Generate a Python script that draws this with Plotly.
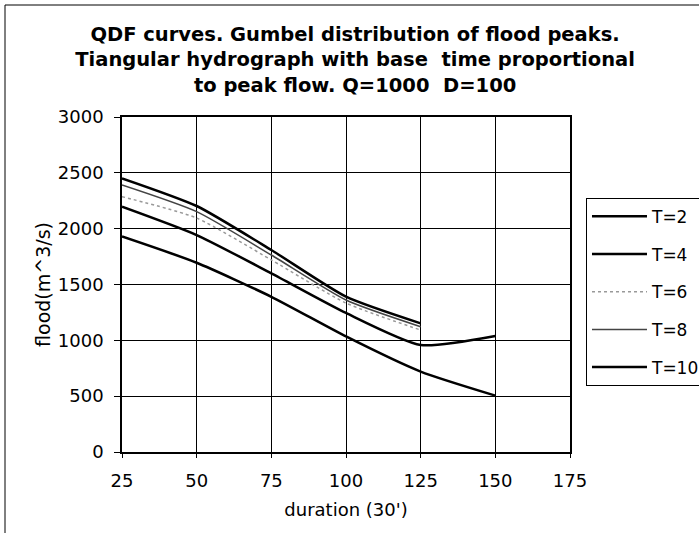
import plotly.graph_objects as go

duration_a = [25, 50, 75, 100, 125, 150]
duration_b = [25, 50, 75, 100, 125]

t2 = [1930, 1695, 1390, 1035, 720, 505]
t4 = [2197, 1943, 1600, 1245, 958, 1039]
t6 = [2287, 2095, 1720, 1334, 1092]
t8 = [2391, 2152, 1764, 1361, 1122]
t10 = [2451, 2203, 1809, 1391, 1152]

series = [
    ("T=2", duration_a, t2, dict(color="black", width=2.5)),
    ("T=4", duration_a, t4, dict(color="black", width=2.5)),
    ("T=6", duration_b, t6, dict(color="#999999", width=1.5, dash="dot")),
    ("T=8", duration_b, t8, dict(color="#444444", width=1.5)),
    ("T=10", duration_b, t10, dict(color="black", width=2.5)),
]

FONT = "DejaVu Sans"
fig = go.Figure()
for name, xs, ys, ln in series:
    fig.add_trace(go.Scatter(x=xs, y=ys, name=name, mode="lines",
                             line=dict(shape="spline", smoothing=0.6, **ln),
                             legendgroup=name))

fig.update_layout(
    width=699, height=533,
    margin=dict(l=122, r=129, t=117, b=81, autoexpand=False),
    paper_bgcolor="white", plot_bgcolor="white",
    font=dict(family=FONT, size=18, color="black"),
    title=dict(text="<b>QDF curves. Gumbel distribution of flood peaks.<br>"
                    "Tiangular hydrograph with base  time proportional<br>"
                    "to peak flow. Q=1000  D=100</b>",
               font=dict(family=FONT, size=19.5, color="black"),
               x=0.508, xanchor="center", xref="container",
               y=0.923, yanchor="top", yref="container"),
    xaxis=dict(range=[25, 175], tickvals=[25, 50, 75, 100, 125, 150, 175],
               showgrid=True, gridcolor="black", gridwidth=1,
               showline=True, linecolor="black", linewidth=1.5, mirror=True,
               ticks="outside", ticklen=4, tickcolor="black",
               ticklabelstandoff=8, zeroline=False,
               title=dict(text="duration (30')", font=dict(size=18), standoff=13)),
    yaxis=dict(range=[0, 3000], tickvals=[0, 500, 1000, 1500, 2000, 2500, 3000],
               showgrid=True, gridcolor="black", gridwidth=1,
               showline=True, linecolor="black", linewidth=1.5, mirror=True,
               ticks="outside", ticklen=6, tickcolor="black",
               ticklabelstandoff=7, zeroline=False,
               title=dict(text="flood(m^3/s)", font=dict(size=19), standoff=2)),
    legend=dict(x=1.0357, xanchor="left", y=0.759, yanchor="top",
                bordercolor="black", borderwidth=1, bgcolor="white",
                tracegroupgap=12.6, traceorder="grouped",
                font=dict(family=FONT, size=17, color="black"),
                itemwidth=55),
    showlegend=True,
)

fig.add_shape(type="rect", xref="paper", yref="paper",
              x0=(5 - 122) / 448, x1=(710 - 122) / 448,
              y0=(452 - 545) / 335, y1=(452 - 5) / 335,
              line=dict(color="black", width=1), layer="below")

fig.write_html("out.html", config={"displayModeBar": False},
               post_script="document.body.style.margin='0';")
